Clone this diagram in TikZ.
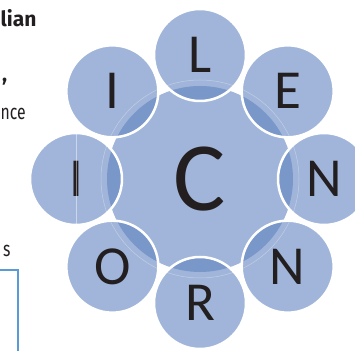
\documentclass[tikz,border=0pt]{standalone}
\usepackage{fontspec}
\setmainfont{Carlito}
\newfontfamily\headfont{Fira Sans}
\newfontfamily\narrowfont[FakeStretch=0.75]{Fira Sans}
\usetikzlibrary{positioning}

\definecolor{hubblue}{HTML}{A0B5D9}
\definecolor{petalblue}{HTML}{6184C0}
\definecolor{boxblue}{HTML}{5B9BD5}
\definecolor{inkgray}{HTML}{231F20}

\tikzset{
  hub/.style={circle, inner sep=0pt, fill=hubblue, minimum size=186pt,
    text=inkgray, font=\fontsize{98}{98}\selectfont},
  petal/.style={circle, inner sep=0pt, minimum size=92pt, fill=petalblue,
    fill opacity=0.6, text opacity=1, draw=white, line width=2.5pt,
    text=inkgray, font=\fontsize{55}{55}\selectfont},
  sidetext/.style={anchor=base west, inner sep=0pt, text=inkgray}
}

\begin{document}
\begin{tikzpicture}[x=1pt, y=1pt]
\useasboundingbox (0,0) rectangle (355,350);

% hub and petals
\node (ctr) [hub] at (200,171) {C};
\foreach \ang/\ltr [count=\i] in {90/L, 45/E, 0/N, -45/N, -90/R, -135/O, 180/I, 135/I}
  \node (p\i) [petal] at ([shift={(\ang:124pt)}]ctr.center) {\ltr};
\draw[white, opacity=0.35, line width=0.5pt] (ctr.center) circle (99pt);
\draw[white, opacity=0.45, line width=0.5pt] (p7.north) -- (p7.south);

% texts at the left edge
\node (head) [sidetext, font=\headfont\bfseries\fontsize{21}{21}\selectfont] at (0.5,323) {lian};
\node (comma) [sidetext, font=\headfont\bfseries\fontsize{21}{21}\selectfont] at (2,268) {,};
\node (ince) [sidetext, font=\narrowfont\fontsize{21}{21}\selectfont] at (0.5,230) {nce};
\node (plur) [sidetext, font=\narrowfont\fontsize{21}{21}\selectfont] at (3,93) {s};
\draw[boxblue, line width=1.2pt] (-1,80) -- (18,80) -- (18,-1);
\end{tikzpicture}
\end{document}
